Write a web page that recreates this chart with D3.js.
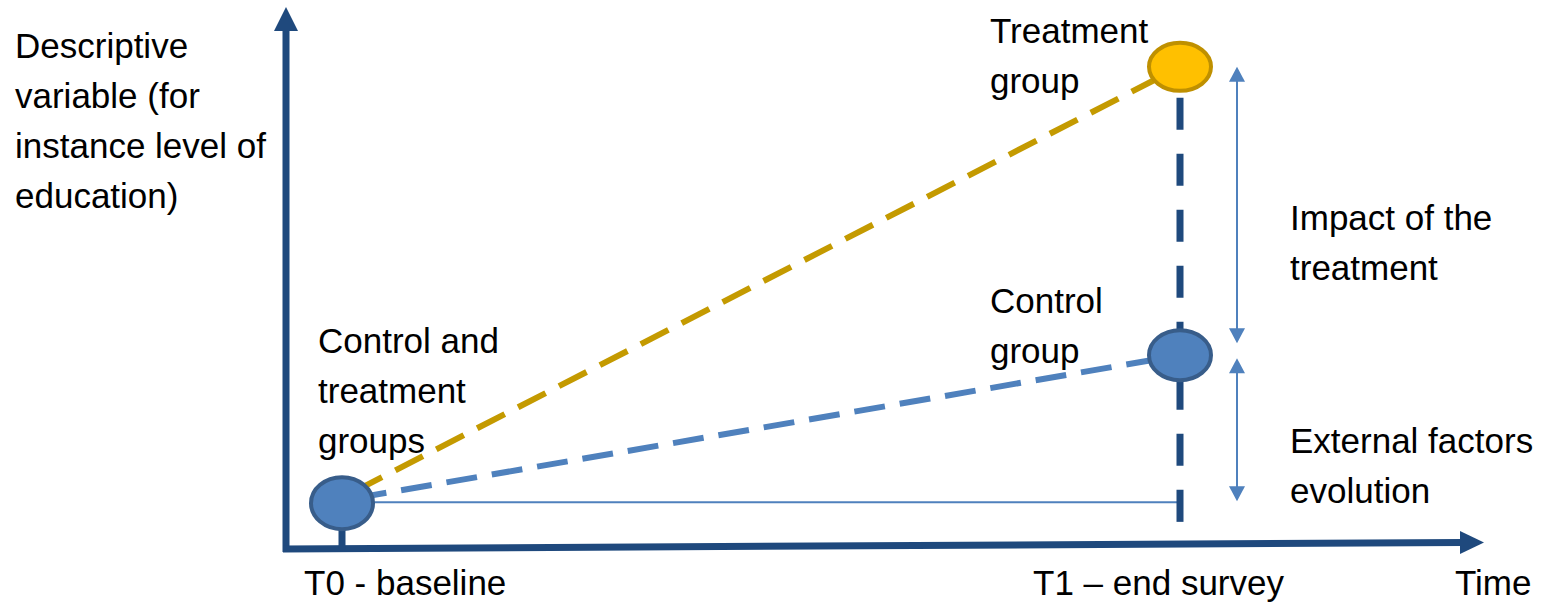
<!DOCTYPE html>
<html>
<head>
<meta charset="utf-8">
<script src="https://cdn.jsdelivr.net/npm/d3@7"></script>
<style>
  html, body { margin: 0; padding: 0; background: #ffffff; }
  svg { display: block; }
  text { font-family: "Liberation Sans", Arial, sans-serif; font-size: 35px; fill: #000; }
</style>
</head>
<body>
<div id="chart"></div>
<script>
// ---- data ----
const timeLabels = ["T0 - baseline", "T1 \u2013 end survey"];
const timeValues = [0, 1];
const baselineValue = 8.3;      // both groups at T0
const controlValue = 35.7;      // control group at T1
const treatmentValue = 89.1;    // treatment group at T1
const yAxisLabel = ["Descriptive", "variable (for", "instance level of", "education)"];
const xAxisLabel = "Time";
const groupLabelsT0 = ["Control and", "treatment", "groups"];
const treatmentLabel = ["Treatment", "group"];
const controlLabel = ["Control", "group"];
const impactLabel = ["Impact of the", "treatment"];
const externalLabel = ["External factors", "evolution"];

// ---- layout ----
const W = 1541, H = 603;
const x = d3.scaleLinear().domain([0, 1]).range([342, 1180]);
const y = d3.scaleLinear().domain([0, 100]).range([548, 8]);

const C = {
  axis: "#1F497D",
  blue: "#4F81BD",
  blueStroke: "#385D8A",
  gold: "#FFC000",
  goldStroke: "#BF9000",
  goldLine: "#C49A00"
};

const svg = d3.select("#chart").append("svg").attr("width", W).attr("height", H);

// axes
const yAxisX = 286;
const axisY0 = 549, axisY1 = 542.5;
svg.append("line").attr("x1", yAxisX).attr("y1", axisY0 + 3).attr("x2", yAxisX).attr("y2", 28)
  .attr("stroke", C.axis).attr("stroke-width", 7);
svg.append("path").attr("d", d3.line()([[yAxisX, 7], [yAxisX + 12, 31], [yAxisX - 12, 31]]) + "Z")
  .attr("fill", C.axis);
svg.append("line").attr("x1", yAxisX - 3).attr("y1", axisY0).attr("x2", 1462).attr("y2", axisY1)
  .attr("stroke", C.axis).attr("stroke-width", 7);
svg.append("path").attr("d", d3.line()([[1460, 531], [1484, axisY1], [1460, 554]]) + "Z")
  .attr("fill", C.axis);

// tick under T0
const rx = 33;
svg.append("line").attr("x1", x(0)).attr("x2", x(0))
  .attr("y1", y(baselineValue) + 27).attr("y2", axisY0)
  .attr("stroke", C.axis).attr("stroke-width", 7);

// thin horizontal reference line
svg.append("line").attr("x1", x(0)).attr("x2", x(1))
  .attr("y1", y(baselineValue) - 1).attr("y2", y(baselineValue) - 1)
  .attr("stroke", C.blue).attr("stroke-width", 2);

// vertical dashed line at T1
svg.append("line").attr("x1", x(1)).attr("x2", x(1))
  .attr("y1", y(treatmentValue) + 31).attr("y2", 522)
  .attr("stroke", C.axis).attr("stroke-width", 7)
  .attr("stroke-dasharray", "32 24");

// trajectories
const line = d3.line().x(d => x(d[0])).y(d => y(d[1]));
svg.append("path").attr("d", line([[timeValues[0], baselineValue + 1], [timeValues[1], treatmentValue]]))
  .attr("fill", "none").attr("stroke", C.goldLine).attr("stroke-width", 6)
  .attr("stroke-dasharray", "31 15").attr("stroke-dashoffset", -14);
svg.append("path").attr("d", line([[timeValues[0], baselineValue + 0.5], [timeValues[1], controlValue]]))
  .attr("fill", "none").attr("stroke", C.blue).attr("stroke-width", 6)
  .attr("stroke-dasharray", "31 15").attr("stroke-dashoffset", -14);

// points
const pts = [
  { t: 0, v: baselineValue, fill: C.blue, stroke: C.blueStroke, ry: 28 },
  { t: 1, v: treatmentValue, fill: C.gold, stroke: C.goldStroke, ry: 26 },
  { t: 1, v: controlValue, fill: C.blue, stroke: C.blueStroke, ry: 27 }
];
svg.selectAll("ellipse.pt").data(pts).enter().append("ellipse")
  .attr("cx", d => x(d.t)).attr("cy", d => y(d.v))
  .attr("rx", rx - 2).attr("ry", d => d.ry - 2)
  .attr("fill", d => d.fill).attr("stroke", d => d.stroke).attr("stroke-width", 4);

// double arrows on right
const ax = 1237;
function vArrow(yTop, yBot) {
  const hs = 15, hw = 8;
  svg.append("line").attr("x1", ax).attr("x2", ax)
    .attr("y1", yTop + hs - 1).attr("y2", yBot - hs + 1)
    .attr("stroke", C.blue).attr("stroke-width", 2);
  svg.append("path").attr("d", d3.line()([[ax, yTop], [ax + hw, yTop + hs], [ax - hw, yTop + hs]]) + "Z").attr("fill", C.blue);
  svg.append("path").attr("d", d3.line()([[ax, yBot], [ax + hw, yBot - hs], [ax - hw, yBot - hs]]) + "Z").attr("fill", C.blue);
}
vArrow(y(treatmentValue), y(controlValue) - 12);
vArrow(y(controlValue) + 3, y(baselineValue) - 2);

// text
function multi(lines, x0, y0, dy) {
  const t = svg.append("text").attr("x", x0).attr("y", y0);
  lines.forEach((s, i) => t.append("tspan").attr("x", x0).attr("y", y0 + i * dy).text(s));
}
multi(yAxisLabel, 15, 58, 50);
multi(groupLabelsT0, 318, 353, 50);
multi(treatmentLabel, 990, 43, 50);
multi(controlLabel, 990, 313, 50);
multi(impactLabel, 1290, 230, 50);
multi(externalLabel, 1290, 453, 50);
svg.append("text").attr("x", 304).attr("y", 595).text(timeLabels[0]);
svg.append("text").attr("x", 1033).attr("y", 595).text(timeLabels[1]);
svg.append("text").attr("x", 1455).attr("y", 595).text(xAxisLabel);
</script>
</body>
</html>
